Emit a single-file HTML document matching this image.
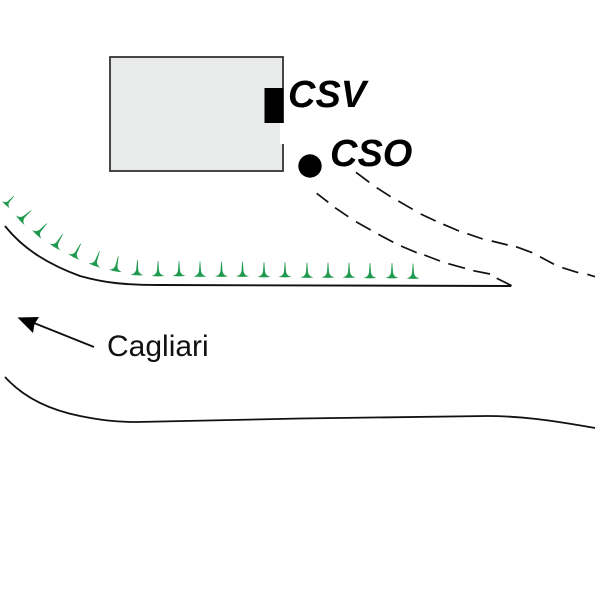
<!DOCTYPE html>
<html><head><meta charset="utf-8">
<style>html,body{margin:0;padding:0;background:#fff}svg{display:block}</style>
</head><body>
<svg xmlns="http://www.w3.org/2000/svg" width="600" height="600" viewBox="0 0 600 600">
<defs><path id="t" d="M-6.500 0.400Q-1.600-0.600-1-5L-0.300-14.500L0.300-14.500L1-5Q1.600-0.600 6.500 0.400Q0 1.400-6.500 0.400Z" fill="#1f9a4e"/></defs>
<rect width="600" height="600" fill="#fff"/>
<rect x="110" y="57" width="173" height="114" fill="#e9eaea" stroke="#333" stroke-width="1.800"/>
<rect x="280" y="123" width="7" height="21" fill="#fff"/>
<rect x="264.500" y="88" width="19" height="35" fill="#000"/>
<circle cx="310" cy="166" r="11.700" fill="#000"/>
<g font-family="'Liberation Sans',sans-serif" font-weight="bold" font-style="italic" font-size="38" fill="#000">
<text x="288" y="107">CSV</text>
<text x="330" y="166">CSO</text>
</g>
<text x="107" y="356" font-family="'Liberation Sans',sans-serif" font-size="30" fill="#111">Cagliari</text>
<path d="M5 226C24 250 50 265 80 276C105 283 125 285 160 285L511 286" fill="none" stroke="#111" stroke-width="1.900"/>
<path d="M5 377C24 398 50 410 80 416C100 420 115 422 137 422L300 418.500L487 416C520 416 550 420 595 428" fill="none" stroke="#111" stroke-width="1.800"/>
<path fill="none" stroke="#111" stroke-width="1.700" d="M316.700 193.300L328.300 202.300M335 207.700L348.300 216.700M356 221.700L370.700 230M378.300 234.300L393.300 242.300M401 246L416.700 252.700M424.300 255L440 261M448.300 263.700L465 268.300M473.300 270.700L490 274M496.700 278.300L511.700 285.700"/>
<path fill="none" stroke="#111" stroke-width="1.700" d="M356 172.300L369.300 182.300M376.700 187.700L390.700 196.700M398.300 201L412.700 209.300M420.700 214L435.700 221M443.300 224.300L459 231M467.300 233.700L482.700 239M491.700 241L507.700 245M516 246.700L532.300 252.700M540 256.700L554 264.300M562.300 267.700L578.300 272.700M587.300 274.300L595 276.700"/>
<path d="M94 347L34 323" fill="none" stroke="#111" stroke-width="1.800"/>
<path d="M17.500 317.500L39 317L34.500 324L33 333Z" fill="#000"/>
<use href="#t" transform="translate(6 204.500) rotate(43) scale(.85 .8)"/>
<use href="#t" transform="translate(20.500 220) rotate(48)"/>
<use href="#t" transform="translate(37 234) rotate(43)"/>
<use href="#t" transform="translate(55 246.500) rotate(32)"/>
<use href="#t" transform="translate(74 256.500) rotate(28)"/>
<use href="#t" transform="translate(94.500 265) rotate(20)"/>
<use href="#t" transform="translate(115.500 270.500) rotate(11)"/>
<use href="#t" transform="translate(137 274.500) rotate(2)"/>
<use href="#t" transform="translate(158 275.500)"/>
<use href="#t" transform="translate(179 275.500)"/>
<use href="#t" transform="translate(200 276)"/>
<use href="#t" transform="translate(221.500 276)"/>
<use href="#t" transform="translate(242.500 276)"/>
<use href="#t" transform="translate(264 276.500)"/>
<use href="#t" transform="translate(285 276.500)"/>
<use href="#t" transform="translate(307 277)"/>
<use href="#t" transform="translate(328 277)"/>
<use href="#t" transform="translate(349 277)"/>
<use href="#t" transform="translate(370 277.500)"/>
<use href="#t" transform="translate(392 277.500)"/>
<use href="#t" transform="translate(413 278)"/>
</svg>
</body></html>
